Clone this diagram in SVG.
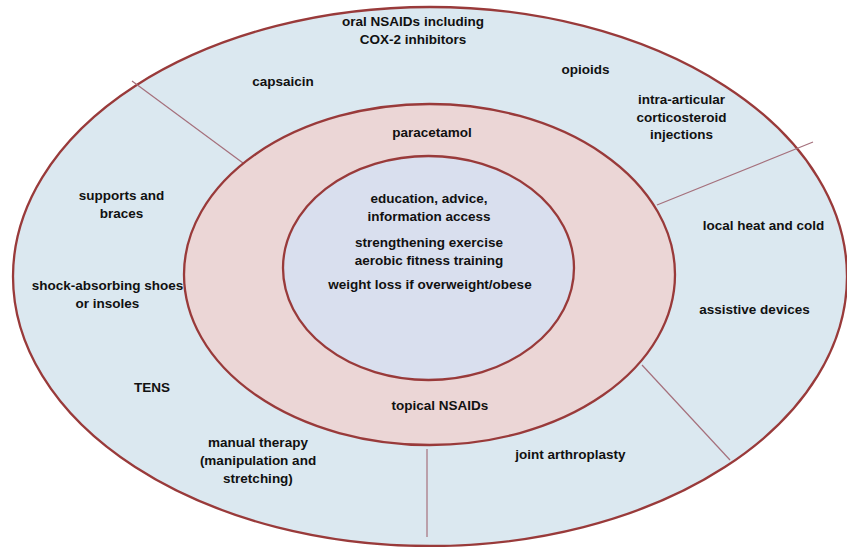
<svg xmlns="http://www.w3.org/2000/svg" width="847" height="547" viewBox="0 0 847 547">
<style>
.ring{stroke:#993a3a;stroke-width:2.3}
.div{stroke:#a5707c;stroke-width:1.2;fill:none}
text{font-family:"Liberation Sans",Arial,sans-serif;font-weight:bold;font-size:13.5px;fill:#111111;text-anchor:middle}
</style>
<rect width="847" height="547" fill="#ffffff"/>
<g id="outer"><ellipse class="ring" cx="430" cy="276.5" rx="417" ry="269.5" fill="#dbe8f0"/></g>
<g id="connectors">
<line class="div" x1="132" y1="81" x2="243" y2="163"/>
<line class="div" x1="657" y1="205" x2="813" y2="142"/>
<line class="div" x1="642" y1="365" x2="730" y2="460"/>
<line class="div" x1="427" y1="449" x2="427" y2="537"/>
</g>
<g id="middle"><ellipse class="ring" cx="429.5" cy="274.5" rx="245.5" ry="170.5" fill="#ebd6d6"/></g>
<g id="inner"><ellipse class="ring" cx="428.5" cy="268" rx="145.5" ry="112" fill="#d9dfee"/></g>
<g id="labels-core">
<text x="429" y="203">education, advice,</text>
<text x="429" y="221">information access</text>
<text x="429" y="247">strengthening exercise</text>
<text x="429" y="265">aerobic fitness training</text>
<text x="430" y="289">weight loss if overweight/obese</text>
</g>
<g id="labels-middle">
<text x="432" y="137">paracetamol</text>
<text x="440" y="410">topical NSAIDs</text>
</g>
<g id="labels-outer">
<text x="413" y="26">oral NSAIDs including</text>
<text x="413" y="44">COX-2 inhibitors</text>
<text x="283" y="86">capsaicin</text>
<text x="585.5" y="74">opioids</text>
<text x="681.5" y="104">intra-articular</text>
<text x="681.5" y="122">corticosteroid</text>
<text x="681.5" y="139">injections</text>
<text x="121.5" y="200">supports and</text>
<text x="121.5" y="218">braces</text>
<text x="763.5" y="230">local heat and cold</text>
<text x="107.5" y="290">shock-absorbing shoes</text>
<text x="107.5" y="308">or insoles</text>
<text x="754.5" y="314">assistive devices</text>
<text x="152" y="392">TENS</text>
<text x="258" y="447">manual therapy</text>
<text x="258" y="465">(manipulation and</text>
<text x="258" y="483">stretching)</text>
<text x="570.5" y="459">joint arthroplasty</text>
</g>
</svg>
